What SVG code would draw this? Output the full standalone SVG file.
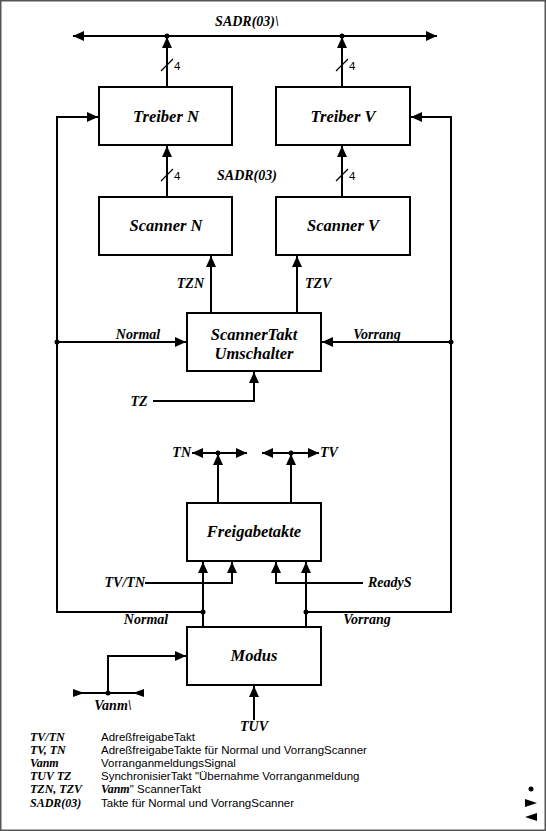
<svg xmlns="http://www.w3.org/2000/svg" width="546" height="831" viewBox="0 0 546 831">
<style>
.box{fill:#fff;stroke:#000;stroke-width:2}
.t{font-family:"Liberation Serif",serif;font-weight:bold;font-style:italic;font-size:16.5px;text-anchor:middle}
.l{font-family:"Liberation Serif",serif;font-weight:bold;font-style:italic;font-size:14px}
.g{font-family:"Liberation Serif",serif;font-weight:bold;font-style:italic;font-size:12px}
.s{font-family:"Liberation Sans",sans-serif;font-size:11.5px}
.w{fill:none;stroke:#000;stroke-width:2}
.thin{fill:none;stroke:#000;stroke-width:1.2}
</style>
<defs>
<marker id="a" markerUnits="userSpaceOnUse" markerWidth="12" markerHeight="10" refX="11" refY="5" orient="auto">
<path d="M0,0 L11,5 L0,10 Z" fill="#000"/>
</marker>
</defs>
<rect x="0.75" y="0.75" width="544.5" height="829.5" fill="#fff" stroke="#555" stroke-width="1.5"/>
<g id="connectors">
<line class="w" x1="167" y1="36" x2="73" y2="36" marker-end="url(#a)"/>
<line class="w" x1="167" y1="36" x2="437" y2="36" marker-end="url(#a)"/>
<circle cx="167" cy="36" r="2.5"/><circle cx="342" cy="36" r="2.5"/>
<line class="w" x1="167" y1="87" x2="167" y2="37" marker-end="url(#a)"/>
<line class="w" x1="342" y1="87" x2="342" y2="37" marker-end="url(#a)"/>
<line class="thin" x1="161" y1="71" x2="173" y2="59"/>
<line class="thin" x1="336" y1="71" x2="348" y2="59"/>
<text class="s" x="174" y="70">4</text>
<text class="s" x="349" y="70">4</text>
<line class="w" x1="167" y1="197" x2="167" y2="146" marker-end="url(#a)"/>
<line class="w" x1="342" y1="197" x2="342" y2="146" marker-end="url(#a)"/>
<line class="thin" x1="161" y1="181" x2="173" y2="169"/>
<line class="thin" x1="336" y1="181" x2="348" y2="169"/>
<text class="s" x="174" y="180">4</text>
<text class="s" x="349" y="180">4</text>
<line class="w" x1="211" y1="313" x2="211" y2="256" marker-end="url(#a)"/>
<line class="w" x1="297" y1="313" x2="297" y2="256" marker-end="url(#a)"/>
<polyline class="w" points="203,612 57,612 57,117 98,117" marker-end="url(#a)"/>
<polyline class="w" points="306,612 451,612 451,117 411,117" marker-end="url(#a)"/>
<line class="w" x1="57" y1="342" x2="186" y2="342" marker-end="url(#a)"/>
<line class="w" x1="451" y1="342" x2="322" y2="342" marker-end="url(#a)"/>
<circle cx="57" cy="342" r="2.5"/><circle cx="451" cy="342" r="2.5"/>
<polyline class="w" points="153,401 254,401 254,372" marker-end="url(#a)"/>
<line class="w" x1="218" y1="453" x2="192" y2="453" marker-end="url(#a)"/>
<line class="w" x1="218" y1="453" x2="247" y2="453" marker-end="url(#a)"/>
<line class="w" x1="291" y1="453" x2="262" y2="453" marker-end="url(#a)"/>
<line class="w" x1="291" y1="453" x2="319" y2="453" marker-end="url(#a)"/>
<circle cx="218" cy="453" r="2.5"/><circle cx="291" cy="453" r="2.5"/>
<line class="w" x1="218" y1="503" x2="218" y2="454" marker-end="url(#a)"/>
<line class="w" x1="291" y1="503" x2="291" y2="454" marker-end="url(#a)"/>
<polyline class="w" points="145,583 232,583 232,562" marker-end="url(#a)"/>
<polyline class="w" points="363,583 276,583 276,562" marker-end="url(#a)"/>
<line class="w" x1="203" y1="627" x2="203" y2="562" marker-end="url(#a)"/>
<line class="w" x1="306" y1="627" x2="306" y2="562" marker-end="url(#a)"/>
<circle cx="203" cy="612" r="2.5"/><circle cx="306" cy="612" r="2.5"/>
<polyline class="w" points="108,693 108,656 186,656" marker-end="url(#a)"/>
<line class="w" x1="73" y1="693" x2="144" y2="693"/>
<path d="M73,689 L84,693 L73,697 Z M144,689 L133,693 L144,697 Z"/>
<circle cx="108" cy="693" r="2.5"/>
<line class="w" x1="254" y1="720" x2="254" y2="686" marker-end="url(#a)"/>
</g>
<g id="labels">
<text class="l" x="247" y="26" text-anchor="middle">SADR(03)\</text>
<text class="l" x="247" y="180" text-anchor="middle">SADR(03)</text>
<text class="l" x="204" y="288" text-anchor="end">TZN</text>
<text class="l" x="305" y="288">TZV</text>
<text class="l" x="138" y="339" text-anchor="middle">Normal</text>
<text class="l" x="377" y="339" text-anchor="middle">Vorrang</text>
<text class="l" x="139" y="406" text-anchor="middle">TZ</text>
<text class="l" x="191" y="457" text-anchor="end">TN</text>
<text class="l" x="320" y="457">TV</text>
<text class="l" x="145" y="587" text-anchor="end">TV/TN</text>
<text class="l" x="368" y="587">ReadyS</text>
<text class="l" x="146" y="624" text-anchor="middle">Normal</text>
<text class="l" x="367" y="624" text-anchor="middle">Vorrang</text>
<text class="l" x="113" y="710" text-anchor="middle">Vanm\</text>
<text class="l" x="254" y="731" text-anchor="middle">TUV</text>
</g>
<g id="treiberN"><rect class="box" x="99" y="87" width="133" height="58"/><text class="t" x="166" y="122">Treiber N</text></g>
<g id="treiberV"><rect class="box" x="276" y="87" width="134" height="58"/><text class="t" x="343" y="122">Treiber V</text></g>
<g id="scannerN"><rect class="box" x="99" y="197" width="133" height="58"/><text class="t" x="166" y="231">Scanner N</text></g>
<g id="scannerV"><rect class="box" x="276" y="197" width="134" height="58"/><text class="t" x="343" y="231">Scanner V</text></g>
<g id="umschalter"><rect class="box" x="187" y="313" width="134" height="58"/><text class="t" x="254" y="340">ScannerTakt</text><text class="t" x="254" y="359">Umschalter</text></g>
<g id="freigabetakte"><rect class="box" x="187" y="503" width="134" height="58"/><text class="t" x="254" y="537">Freigabetakte</text></g>
<g id="modus"><rect class="box" x="187" y="627" width="134" height="58"/><text class="t" x="254" y="661">Modus</text></g>
<g id="legend">
<text class="g" x="30" y="741">TV/TN</text><text class="s" x="101" y="741">AdreßfreigabeTakt</text>
<text class="g" x="30" y="754">TV, TN</text><text class="s" x="101" y="754">AdreßfreigabeTakte für Normal und VorrangScanner</text>
<text class="g" x="30" y="767">Vanm</text><text class="s" x="101" y="767">VorranganmeldungsSignal</text>
<text class="g" x="30" y="780">TUV TZ</text><text class="s" x="101" y="780">SynchronisierTakt "Übernahme Vorranganmeldung</text>
<text class="g" x="30" y="793">TZN, TZV</text><text class="s" x="101" y="793"><tspan class="g">Vanm</tspan>" ScannerTakt</text>
<text class="g" x="30" y="807">SADR(03)</text><text class="s" x="101" y="807">Takte für Normal und VorrangScanner</text>
</g>
<g id="icons">
<circle cx="531" cy="789" r="2.5"/>
<path d="M525,799 L537,803 L525,807 Z"/>
<path d="M537,813 L525,817 L537,821 Z"/>
</g>
</svg>
